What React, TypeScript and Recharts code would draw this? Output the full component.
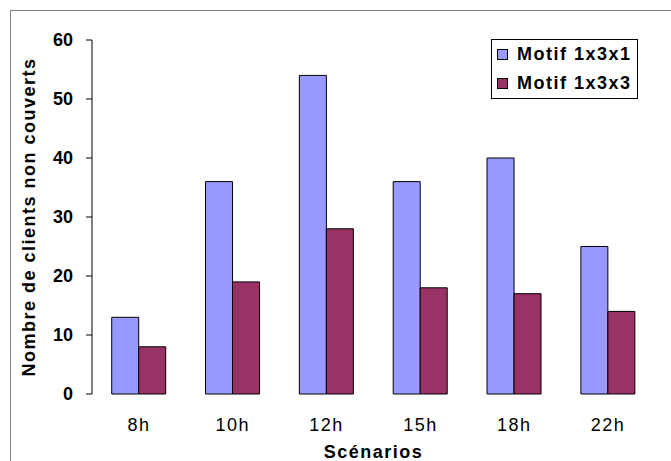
import React from 'react';
import { BarChart, Bar, XAxis, YAxis, CartesianGrid } from 'recharts';

const categories = ['8h', '10h', '12h', '15h', '18h', '22h'];
const motif131 = [13, 36, 54, 36, 40, 25];
const motif133 = [8, 19, 28, 18, 17, 14];
const yTicks = [0, 10, 20, 30, 40, 50, 60];
const seriesNames = ['Motif 1x3x1', 'Motif 1x3x3'];
const seriesColors = ['#9999FF', '#993366'];

const data = categories.map((c, i) => ({ name: c, a: motif131[i], b: motif133[i], idx: i + 0.5 }));

const FONT = '"Liberation Sans", Arial, sans-serif';
const LS = 1.5;

const LegendBox = () => (
  <div style={{ position: 'absolute', left: 491, top: 39, width: 145, height: 58, border: '1px solid #000', background: '#fff', fontFamily: FONT, fontWeight: 700, fontSize: 18, letterSpacing: LS, color: '#000' }}>
    {seriesNames.map((n, i) => (
      <div key={n} style={{ display: 'flex', alignItems: 'center', height: 29, paddingLeft: 5 }}>
        <span style={{ display: 'inline-block', width: 9, height: 9, border: '1px solid #000', background: seriesColors[i], marginRight: 9 }} />
        <span>{n}</span>
      </div>
    ))}
  </div>
);

const YLabel = (props: any) => {
  const vb = props.viewBox || {};
  const x = (vb.x || 0) + 29;
  const y = (vb.y || 0) + (vb.height || 0) / 2;
  return (
    <text x={x} y={y} transform={`rotate(-90, ${x}, ${y})`} textAnchor="middle" dominantBaseline="central" fontFamily={FONT} fontWeight={700} fontSize={18} letterSpacing={LS} fill="#000">
      Nombre de clients non couverts
    </text>
  );
};

export default function App() {
  return (
    <div style={{ position: 'absolute', left: 0, top: 0, width: 671, height: 461, overflow: 'hidden', background: '#fff' }}>
      <div style={{ position: 'absolute', left: 10, top: 10, width: 700, height: 500, border: '1px solid #808080' }} />
      <div style={{ position: 'absolute', left: 0, top: 0 }}>
        <BarChart width={671} height={461} data={data} margin={{ top: 40, right: 16, bottom: 0, left: 0 }} barCategoryGap="21%" barGap={0}>
          <CartesianGrid vertical={false} horizontalValues={[10, 20, 30, 40, 50]} stroke="#000" strokeDasharray="4 3" />
          <XAxis xAxisId="ticks" type="number" dataKey="idx" domain={[0, 6]} ticks={[0, 1, 2, 3, 4, 5, 6]} tick={false} height={0} axisLine={{ stroke: '#000' }} tickLine={{ stroke: '#000' }} tickSize={7} allowDataOverflow />
          <XAxis xAxisId="cat" dataKey="name" height={67} axisLine={false} tickLine={false} tickSize={0} tickMargin={24}
            tick={{ fontFamily: FONT, fontSize: 18, fill: '#000', letterSpacing: LS }}
            label={{ value: 'Scénarios', position: 'insideBottom', offset: 3, style: { fontFamily: FONT, fontWeight: 700, fontSize: 18, fill: '#000', letterSpacing: LS } }} />
          <XAxis xAxisId="top" orientation="top" dataKey="name" height={0} tick={false} tickLine={false} axisLine={{ stroke: '#808080' }} />
          <YAxis yAxisId="left" width={92} domain={[0, 60]} ticks={yTicks} interval={0} axisLine={{ stroke: '#000' }} tickLine={{ stroke: '#000' }} tickSize={6} tickMargin={13}
            tick={{ fontFamily: FONT, fontWeight: 700, fontSize: 18, fill: '#000' }}
            label={<YLabel />} />
          <YAxis yAxisId="right" orientation="right" width={0} domain={[0, 60]} tick={false} tickLine={false} axisLine={{ stroke: '#808080' }} />
          <Bar xAxisId="cat" yAxisId="left" dataKey="a" name={seriesNames[0]} fill={seriesColors[0]} stroke="#000" strokeWidth={1} isAnimationActive={false} />
          <Bar xAxisId="cat" yAxisId="left" dataKey="b" name={seriesNames[1]} fill={seriesColors[1]} stroke="#000" strokeWidth={1} isAnimationActive={false} />
        </BarChart>
      </div>
      <LegendBox />
    </div>
  );
}
